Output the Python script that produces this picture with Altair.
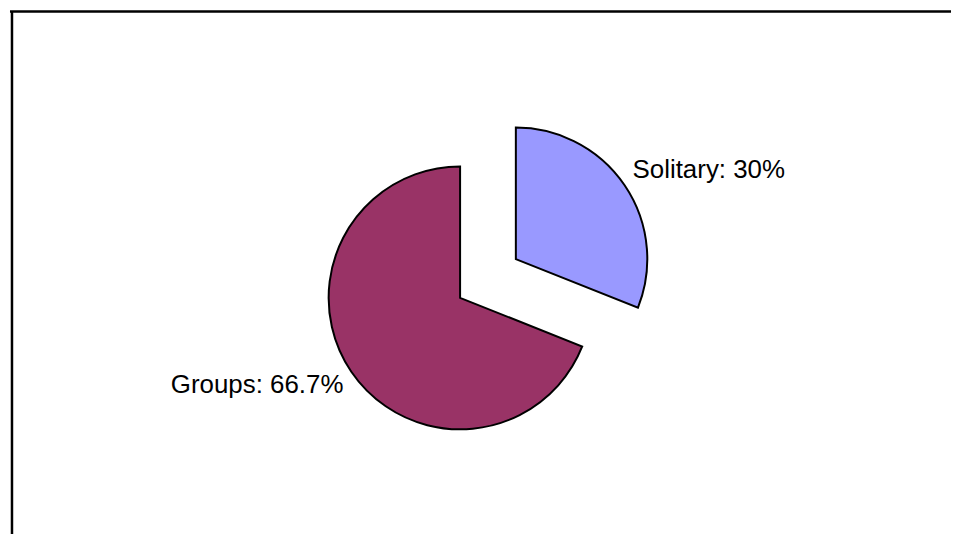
import altair as alt
import pandas as pd

categories = ["Solitary", "Groups"]
values = [30, 66.7]
labels = ["Solitary: 30%", "Groups: 66.7%"]
order = [1, 2]
colors = ["#9999FF", "#993366"]

df = pd.DataFrame({"cat": categories, "value": values, "label": labels,
                   "ord": order, "color": colors})

W, H = 945, 525
base = alt.Chart(df)

theta = alt.Theta("value:Q", stack=True)
ordr = alt.Order("ord:Q")


def slice_layer(name, cx, cy):
    return base.mark_arc(radius=132, stroke="black", strokeWidth=2).encode(
        theta=theta,
        order=ordr,
        x=alt.value(cx),
        y=alt.value(cy),
        fill=alt.Fill("color:N", scale=None),
        opacity=alt.condition(alt.datum.cat == name, alt.value(1), alt.value(0)),
    )


def label_layer(name, align, dx, dy):
    return base.mark_text(radius=141, align=align, baseline="middle", dx=dx, dy=dy,
                          font="Liberation Sans", fontSize=26, color="black").encode(
        theta=theta,
        order=ordr,
        text="label:N",
        opacity=alt.condition(alt.datum.cat == name, alt.value(1), alt.value(0)),
    )


frame = alt.Chart(alt.Data(values=[{"a": 1}]))
left_border = frame.mark_rule(color="black", strokeWidth=2.5).encode(
    x=alt.value(2), y=alt.value(0), y2=alt.value(H))
top_border = frame.mark_rule(color="black", strokeWidth=2.5).encode(
    x=alt.value(0), x2=alt.value(W), y=alt.value(0.5))

chart = alt.layer(
    slice_layer("Groups", 452, 288),
    slice_layer("Solitary", 508, 249),
    label_layer("Solitary", "left", 36, -24),
    label_layer("Groups", "right", -21, 34),
    left_border,
    top_border,
).properties(width=W, height=H, padding=0).configure_view(stroke=None)

chart.save("out.html", embed_options={"renderer": "svg", "actions": False})
